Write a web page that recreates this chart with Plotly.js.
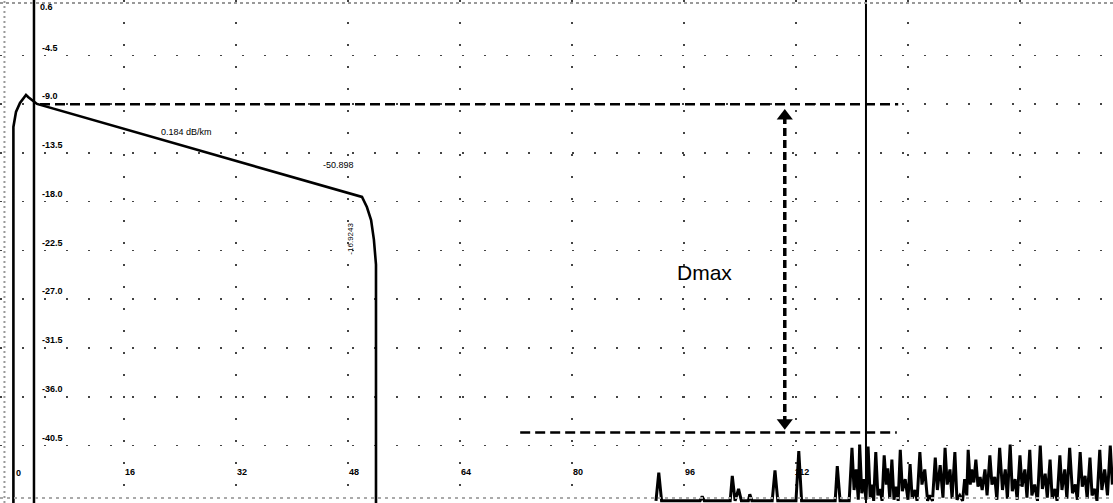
<!DOCTYPE html>
<html><head><meta charset="utf-8">
<script src="https://cdn.plot.ly/plotly-3.0.1.min.js"></script>
<style>html,body{margin:0;padding:0;background:#fff;}#chart{width:1113px;height:503px;}</style>
</head><body><div id="chart"></div>
<script>
// OTDR trace: distance (km) vs level (dB)
const traceKm = [0.2, 0.2, 0.57, 1.14, 2.0, 2.3, 3.57, 50.0, 50.7, 51.3, 51.7, 52.0, 52.0];
const traceDb = [-46, -11.1, -9.72, -8.89, -8.15, -8.34, -8.98, -17.56, -18.49, -19.69, -21.5, -23.8, -46];

// noise floor after the fibre end
const noiseKm = [92.0,92.4,92.8, 98.3,98.6,98.9, 102.6,102.9,103.3,103.8,104.2, 105.2,105.4,105.7,
  108.6,109.0,109.4, 112.0,112.4,112.8, 117.6,117.9,118.3,
  119.6,120.0,120.3,120.6,120.9,121.1,121.4,121.7,122.0,122.3,122.6,122.9,123.1,123.4,123.7,124.0,124.3,
  124.6,124.9,125.1,125.4,125.7,126.0,126.3,126.6,126.9,127.2,127.6,128.0,128.3,128.6,129.0,129.3,129.7,
  130.0,130.4,130.8,131.1,131.5,131.9,132.2,132.6,133.0,133.3,133.6,134.0,134.3,134.7,135.0,135.4,135.8,
  136.1,136.4,136.6,136.9,137.1,137.4,137.7,138.0,138.3,138.6,139.0,139.3,139.7,140.0,140.4,140.7,141.1,
  141.5,141.9,142.2,142.6,142.9,143.3,143.6,144.0,144.3,144.7,145.0,145.4,145.7,146.1,146.5,146.9,147.2,
  147.6,147.9,148.3,148.6,149.0,149.3,149.7,150.0,150.4,150.7,151.1,151.5,151.9,152.2,152.6,152.9,153.3,
  153.6,154.0,154.3,154.7,155.0,155.4,155.7,156.1,156.5,156.9,157.2];
const noiseDb = [-45.6,-43.0,-45.6, -45.6,-45.2,-45.6, -45.6,-43.3,-45.6,-44.5,-45.6, -45.6,-45.0,-45.6,
  -45.6,-42.8,-45.6, -45.6,-41.0,-45.6, -45.6,-42.4,-45.6,
  -45.6,-40.7,-44.6,-42.7,-45.5,-40.4,-44.9,-43.6,-45.5,-40.6,-45.3,-44.1,-45.6,-41.1,-45.1,-44.5,-45.6,
  -41.4,-44.1,-42.6,-45.4,-41.8,-45.5,-44.3,-45.6,-40.9,-44.7,-43.6,-45.5,-42.2,-45.4,-44.6,-45.6,-41.1,
  -44.1,-42.7,-45.6,-45.1,-45.6,-41.6,-44.6,-42.3,-45.3,-40.7,-44.1,-42.7,-45.4,-41.1,-45.5,-45.1,-45.6,
  -43.6,-45.1,-40.9,-44.1,-42.7,-43.9,-41.8,-44.3,-43.4,-44.6,-42.7,-45.1,-41.4,-44.1,-43.4,-45.5,-40.7,
  -44.6,-42.7,-45.4,-40.4,-44.7,-43.6,-45.5,-41.4,-44.3,-42.7,-45.3,-40.9,-45.1,-44.1,-45.6,-40.5,-44.5,
  -43.1,-45.3,-41.8,-45.4,-44.5,-45.6,-41.4,-44.6,-42.7,-45.4,-40.7,-44.9,-44.1,-45.5,-41.1,-44.3,-43.3,
  -45.4,-41.6,-45.1,-44.5,-45.6,-40.9,-44.6,-42.7,-45.1,-40.5,-44.1];

// axis ticks
const xTickVals = [0, 16, 32, 48, 64, 80, 96, 112, 128, 144];
const xTickText = ['0', '16', '32', '48', '64', '80', '96', '112', '', ''];
const yTickVals = [0.6, -4.5, -9.0, -13.5, -18.0, -22.5, -27.0, -31.5, -36.0, -40.5];
const yTickText = ['0.6', '-4.5', '-9.0', '-13.5', '-18.0', '-22.5', '-27.0', '-31.5', '-36.0', '-40.5'];

// cursors and Dmax markers
const cursorKm = [3.14, 122.0];
const upperLevel = { db: -9.0, fromKm: 4.0, toKm: 126.6 };
const lowerLevel = { db: -39.3, fromKm: 72.6, toKm: 126.4 };
const dmaxKm = 110.4;
const dmaxTopHead = -10.1;
const dmaxBottomHead = -38.4;

// labels
const slopeLabel = { text: '0.184 dB/km', km: 25.0, db: -11.6 };
const distLabel = { text: '-50.898', km: 46.6, db: -14.6 };
const lossLabel = { text: '-16.9243', km: 48.3, db: -21.4 };
const dmaxLabel = { text: 'Dmax', km: 99.0, db: -24.5 };

const data = [
  { x: traceKm, y: traceDb, type: 'scatter', mode: 'lines', line: { color: '#000', width: 2.6 }, hoverinfo: 'skip' },
  { x: noiseKm, y: noiseDb, type: 'scatter', mode: 'lines', line: { color: '#000', width: 3 }, hoverinfo: 'skip' },
  { x: [dmaxKm, dmaxKm], y: [dmaxTopHead, dmaxBottomHead], type: 'scatter', mode: 'markers',
    marker: { symbol: ['triangle-up', 'triangle-down'], size: 14, color: '#000' }, hoverinfo: 'skip' }
];

const font = { family: 'Liberation Sans, Arial, sans-serif', color: '#000' };
const tickFont = { family: font.family, size: 9, color: '#000', weight: 'bold' };

const layout = {
  width: 1113, height: 503,
  margin: { l: 0, r: 0, t: 0, b: 0 },
  paper_bgcolor: '#fff', plot_bgcolor: '#fff',
  showlegend: false,
  font: font,
  xaxis: {
    range: [-1.714, 157.29], tickvals: xTickVals, ticktext: xTickText,
    showgrid: true, gridcolor: '#444', gridwidth: 1.5, griddash: '2px,20px',
    zeroline: false, showline: false, ticks: '',
    anchor: 'free', position: 0.046, ticklabelposition: 'inside', ticklabelshift: 6,
    tickfont: tickFont
  },
  yaxis: {
    range: [-45.8, 0.61], tickvals: yTickVals, ticktext: yTickText,
    showgrid: true, gridcolor: '#444', gridwidth: 1.5, griddash: '2px,20px',
    zeroline: false, showline: false, ticks: '',
    anchor: 'free', position: 0.0305, ticklabelposition: 'inside', ticklabelshift: -8, ticklabelstandoff: 4,
    tickfont: tickFont
  },
  shapes: [
    // cursors
    { type: 'line', xref: 'x', yref: 'paper', x0: cursorKm[0], x1: cursorKm[0], y0: 0, y1: 1, line: { color: '#000', width: 2.5 } },
    { type: 'line', xref: 'x', yref: 'paper', x0: cursorKm[1], x1: cursorKm[1], y0: 0, y1: 1, line: { color: '#000', width: 2 } },
    // level lines
    { type: 'line', xref: 'x', yref: 'y', x0: upperLevel.fromKm, x1: upperLevel.toKm, y0: upperLevel.db, y1: upperLevel.db, line: { color: '#000', width: 2.5, dash: '10px,5px' } },
    { type: 'line', xref: 'x', yref: 'y', x0: lowerLevel.fromKm, x1: lowerLevel.toKm, y0: lowerLevel.db, y1: lowerLevel.db, line: { color: '#000', width: 2.5, dash: '10px,5px' } },
    // Dmax dashed arrow shaft
    { type: 'line', xref: 'x', yref: 'y', x0: dmaxKm, x1: dmaxKm, y0: dmaxTopHead, y1: dmaxBottomHead, line: { color: '#000', width: 3.5, dash: '8px,4px' } },
    // scan borders
    { type: 'line', xref: 'paper', yref: 'paper', x0: 0, x1: 1, y0: 0.994, y1: 0.994, line: { color: '#999', width: 2, dash: '3px,3px' } },
    { type: 'line', xref: 'paper', yref: 'paper', x0: 0, x1: 1, y0: 0.01, y1: 0.01, line: { color: '#aaa', width: 2, dash: '3px,4px' } },
    { type: 'line', xref: 'paper', yref: 'paper', x0: 0.004, x1: 0.004, y0: 0, y1: 1, line: { color: '#999', width: 2, dash: '2px,3px' } }
  ],
  annotations: [
    // edge tick labels that the axis hides at the plot border
    { x: xTickVals[0], xref: 'x', y: -43.0, yref: 'y', text: xTickText[0], showarrow: false, xanchor: 'left', xshift: 2, font: tickFont },
    { x: cursorKm[0], xref: 'x', y: 1, yref: 'paper', yanchor: 'top', xanchor: 'left', xshift: 4, text: yTickText[0], showarrow: false, font: tickFont },
    { x: slopeLabel.km, y: slopeLabel.db, text: slopeLabel.text, showarrow: false, font: { family: font.family, size: 9, color: '#000' } },
    { x: distLabel.km, y: distLabel.db, text: distLabel.text, showarrow: false, font: { family: font.family, size: 9, color: '#000' } },
    { x: lossLabel.km, y: lossLabel.db, text: lossLabel.text, showarrow: false, textangle: -90, font: { family: font.family, size: 8, color: '#000' } },
    { x: dmaxLabel.km, y: dmaxLabel.db, text: dmaxLabel.text, showarrow: false, font: { family: font.family, size: 21, color: '#000' } }
  ]
};

Plotly.newPlot('chart', data, layout, { displayModeBar: false, staticPlot: true });
</script>
</body></html>
